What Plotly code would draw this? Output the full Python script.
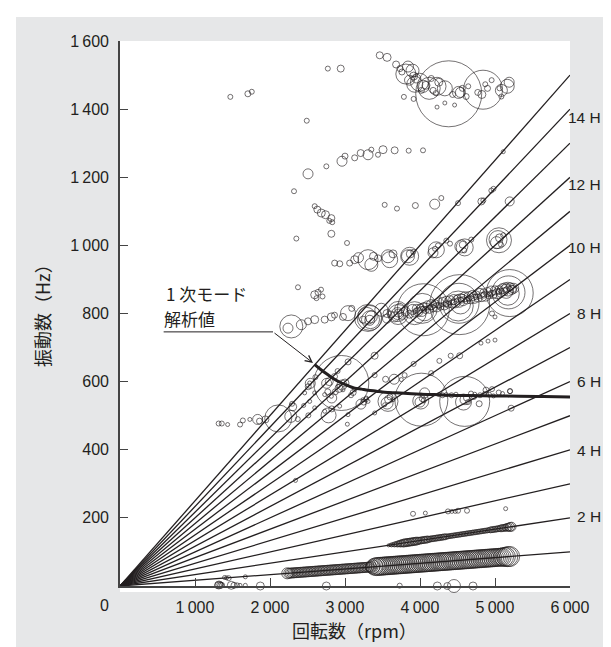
import plotly.graph_objects as go

# ---------------- data ----------------
harmonic_orders = [1, 2, 3, 4, 5, 6, 7, 8, 9, 10, 11, 12, 13, 14, 15]
rpm_max = 6000
label_text = ["2 H", "4 H", "6 H", "8 H", "10 H", "12 H", "14 H"]
label_hz = [203, 398, 601, 801, 994, 1180, 1374]

x_tick_vals = [1000, 2000, 3000, 4000, 5000, 6000]
x_tick_text = ["1\u2009000", "2\u2009000", "3\u2009000", "4\u2009000", "5\u2009000", "6\u2009000"]
y_tick_vals = [200, 400, 600, 800, 1000, 1200, 1400, 1600]
y_tick_text = ["200", "400", "600", "800", "1\u2009000", "1\u2009200", "1\u2009400", "1\u2009600"]

# 1st-mode analytical curve
mode_rpm = [2596, 2680, 2773, 2860, 2951, 3040, 3129, 3220, 3307, 3420, 3529, 3680,
            3840, 4000, 4196, 4400, 4640, 5000, 5307, 5650, 6000]
mode_hz = [650, 635, 620, 607, 596, 588, 581, 578, 575, 572, 569, 567,
           565, 563, 562, 560, 559, 558, 557, 556, 555]

# measured peaks: top cluster (~1450 Hz)
top_rpm = [3463, 3561, 3681, 3733, 3759, 3811, 3915, 3930, 3860, 3993, 4045, 4123, 4227, 4383,
           4331, 4250, 4175, 3785, 3915, 4227, 4331, 4461, 4539, 4565, 4643, 4840, 4825, 4870,
           4955, 4770, 5085, 5163, 5189, 5085, 5060, 4019, 4210, 4435, 4513, 4615, 4900, 3840,
           3900, 3950, 4080, 4150, 2771, 2943, 1471, 1705, 1757, 2490]
top_hz = [1558, 1552, 1531, 1519, 1509, 1503, 1497, 1473, 1485, 1479, 1467, 1461, 1467, 1445,
          1461, 1479, 1455, 1436, 1430, 1406, 1418, 1412, 1449, 1461, 1467, 1457, 1443, 1473,
          1485, 1449, 1455, 1467, 1479, 1437, 1461, 1455, 1447, 1443, 1449, 1437, 1461, 1525,
          1513, 1490, 1470, 1490, 1519, 1519, 1436, 1445, 1451, 1366]
top_size = [7, 8, 7, 6, 6, 20, 8, 16, 10, 18, 12, 22, 18, 66,
            15, 8, 6, 5, 5, 4, 4, 4, 10, 6, 5, 39, 8, 5,
            5, 6, 12, 14, 10, 5, 5, 6, 5, 6, 12, 6, 6, 11,
            13, 9, 8, 6, 5, 7, 5, 6, 5, 5]

# peaks 1000-1300 Hz
mid_rpm = [2507, 2320, 2751, 2960, 3000, 3129, 3209, 3307, 3351, 3440, 3507, 3662, 3849, 4040,
           2596, 2631, 2684, 2740, 2818, 2830, 2790, 2818, 2351, 3027, 3529, 3693, 3938, 4196,
           4284, 4507, 4818, 4845, 4951, 4980, 5196, 5110,
           2862, 2930, 3062, 3129, 3180, 3307, 3380, 3440, 3573, 3640, 3840, 3870, 3910, 4173,
           4200, 4240, 4351, 4400, 4551, 4570, 4590, 4684, 5040, 5020, 5060, 5110, 5080,
           3351, 3596, 3862, 4218, 4596, 5053]
mid_hz = [1210, 1159, 1232, 1247, 1262, 1257, 1271, 1266, 1281, 1266, 1281, 1279, 1278, 1279,
          1115, 1105, 1095, 1090, 1080, 1068, 1072, 1034, 1020, 1007, 1119, 1108, 1117, 1121,
          1139, 1124, 1129, 1132, 1161, 1166, 1129, 1275,
          948, 946, 948, 958, 964, 958, 968, 962, 968, 975, 968, 975, 981, 978,
          990, 1000, 1014, 1005, 997, 1002, 985, 1017, 1017, 1008, 1022, 1030, 1002,
          943, 958, 968, 987, 994, 1015]
mid_size = [10, 5, 5, 10, 6, 6, 7, 10, 5, 5, 8, 7, 5, 5,
            5, 7, 8, 8, 7, 5, 5, 7, 5, 5, 5, 5, 6, 10,
            5, 5, 7, 5, 5, 5, 9, 4,
            6, 6, 6, 8, 10, 20, 8, 7, 13, 8, 13, 8, 5, 10,
            5, 5, 5, 5, 13, 7, 5, 5, 18, 12, 8, 5, 5,
            13, 16, 18, 16, 17, 25]

# peaks 750-880 Hz (left part and big circles)
b800_rpm = [2373, 2596, 2640, 2680, 2620, 2700, 2284, 2240, 2418, 2507, 2596, 2729, 2818, 2860,
            2973, 3040, 3090, 3240, 3307, 3290, 3330, 3484, 3560, 3707, 3730, 3929,
            3329, 3340, 3350, 3707, 3700, 4044, 4030, 4060, 4529, 4520, 4510, 4540,
            5196, 5180, 5170, 5150, 5000, 4960]
b800_hz = [877, 855, 862, 870, 845, 850, 762, 757, 767, 777, 782, 782, 790, 795,
           790, 801, 815, 782, 787, 793, 780, 811, 800, 806, 815, 801,
           787, 782, 790, 797, 800, 811, 815, 805, 826, 830, 822, 828,
           860, 862, 858, 865, 790, 800]
b800_size = [5, 8, 6, 5, 5, 5, 23, 10, 10, 7, 8, 7, 8, 6,
             7, 15, 6, 7, 27, 17, 10, 13, 8, 20, 10, 23,
             25, 18, 12, 20, 12, 52, 30, 18, 60, 40, 30, 20,
             47, 33, 23, 14, 4, 5]

# dense band 3550-5250 rpm, 785-878 Hz
dense_rpm = [3560, 3610, 3660, 3710, 3760, 3810, 3860, 3900, 3925, 3950, 3975, 4000, 4025, 4050,
             4075, 4100, 4125, 4150, 4175, 4200, 4225, 4250, 4275, 4300, 4325, 4350, 4375, 4400,
             4425, 4450, 4475, 4500, 4525, 4550, 4575, 4600, 4625, 4650, 4675, 4700, 4725, 4750,
             4775, 4800, 4825, 4850, 4875, 4900, 4925, 4950, 4975, 5000, 5025, 5050, 5075, 5100,
             5125, 5150, 5175, 5200, 5225, 5250, 3950, 4050, 4150, 4250, 4350, 4450, 4550, 4650,
             4750, 4850, 4950, 5050, 5150, 5240]
dense_hz = [785, 797, 790, 801, 793, 806, 798, 812, 800, 815, 804, 818, 806, 820,
            810, 824, 812, 826, 815, 829, 818, 831, 820, 834, 822, 836, 826, 839,
            828, 841, 830, 844, 833, 846, 836, 849, 838, 851, 840, 853, 843, 856,
            845, 859, 848, 861, 851, 863, 853, 866, 856, 868, 858, 870, 861, 873,
            864, 876, 866, 878, 869, 874, 808, 813, 819, 824, 829, 834, 839, 844,
            849, 854, 859, 864, 869, 872]
dense_size = [9, 7, 10, 8, 7, 9, 8, 10, 7, 8, 9, 7, 10, 8,
              7, 9, 8, 10, 7, 8, 9, 10, 7, 9, 8, 10, 7, 9,
              8, 10, 9, 7, 10, 8, 9, 10, 7, 9, 8, 10, 9, 7,
              8, 10, 9, 8, 10, 9, 7, 10, 8, 9, 10, 8, 9, 10,
              8, 9, 10, 8, 9, 10, 6, 6, 6, 6, 6, 6, 6, 6,
              6, 6, 6, 6, 6, 7]

# peaks 460-720 Hz
m1_rpm = [1315, 1357, 1435, 1601, 1638, 1731, 1835, 1860, 1939, 2110, 2277, 2303, 2295, 2370,
          2449, 2511, 2537, 2510, 2605, 2781, 2823, 2823, 2951, 2755, 2790, 2770, 2870, 2920,
          2960, 2901, 2860, 3000, 3109, 3080, 3041, 3213, 3250, 3280, 3031, 3395, 3395, 3541,
          3573, 3561, 3580, 3600, 3655, 3795, 3915, 4149, 4018, 4010, 4000, 4030, 4050, 4258,
          4409, 4529, 4596, 4580, 4600, 4620, 4640, 4789, 4720, 5215, 4813, 4907, 5000, 5200,
          2529, 2462, 2596, 2729, 2818, 2907, 2973, 3129, 3240, 3284, 3307, 2529, 2596, 2729,
          2929, 3040, 3396, 3529, 3640, 3751, 4062,
          4250, 4300, 4350, 4420, 4480, 4680, 4730, 4800, 4860, 4920, 4980, 5050, 5100, 5200,
          4880, 4960]
m1_hz = [477, 477, 474, 474, 486, 489, 489, 484, 489, 492, 498, 526, 535, 490,
         530, 501, 595, 585, 613, 501, 520, 552, 596, 595, 600, 570, 570, 580,
         590, 631, 615, 596, 568, 560, 658, 534, 540, 548, 475, 676, 619, 607,
         542, 537, 548, 555, 607, 619, 652, 625, 547, 543, 540, 550, 545, 661,
         676, 676, 542, 540, 547, 552, 540, 535, 555, 522, 713, 719, 722, 572,
         596, 567, 567, 562, 557, 586, 576, 576, 547, 552, 542, 542, 523, 513,
         528, 503, 508, 532, 547, 606, 567,
         562, 560, 562, 560, 563, 565, 563, 560, 565, 562, 558, 568, 565, 572,
         575, 578]
m1_size = [5, 5, 4, 5, 5, 4, 10, 6, 7, 27, 12, 8, 5, 5,
           4, 5, 10, 6, 5, 15, 6, 10, 55, 10, 8, 6, 6, 8,
           10, 5, 6, 8, 6, 5, 6, 10, 6, 5, 4, 7, 5, 6,
           20, 12, 8, 6, 10, 5, 5, 5, 53, 16, 10, 6, 5, 5,
           5, 6, 50, 16, 10, 6, 5, 6, 5, 6, 4, 4, 4, 5,
           4, 4, 4, 4, 4, 4, 4, 4, 4, 4, 4, 4, 4, 4,
           4, 4, 4, 4, 4, 4, 10,
           4, 5, 4, 5, 4, 5, 4, 5, 4, 5, 4, 5, 4, 5,
           6, 5]

# low-frequency peaks
low_rpm = [1307, 1320, 1330, 1345, 1360, 1394, 1420, 1449, 1484, 1520, 1560, 1600, 1671, 1671,
           1871, 2751, 3729, 4231, 4364, 4453, 4707, 2340,
           3907, 4071, 4373, 4424, 4470, 4507, 4627, 5142]
low_hz = [2, 3, 4, 2, 3, 25, 24, 23, 2, 2, 2, 2, 2, 27,
          0, 0, 1, 0, 0, 0, 0, 310,
          212, 214, 219, 219, 219, 221, 221, 227]
low_size = [7, 8, 6, 6, 5, 4, 4, 5, 8, 6, 5, 4, 4, 4,
            8, 8, 5, 8, 7, 13, 8, 4,
            5, 4, 5, 4, 4, 5, 5, 4]

# 1st-order (1H) band, lower-amplitude part
h1a_rpm = [2230, 2250, 2270, 2290, 2310, 2330, 2350, 2370, 2390, 2410, 2430, 2450, 2470, 2490,
           2510, 2530, 2550, 2570, 2590, 2610, 2630, 2650, 2670, 2690, 2710, 2730, 2750, 2770,
           2790, 2810, 2830, 2850, 2870, 2890, 2910, 2930, 2950, 2970, 2990, 3010, 3030, 3050,
           3070, 3090, 3110, 3130, 3150, 3170, 3190, 3210, 3230, 3250, 3270, 3290, 3310, 3330,
           3350]
h1a_hz = [37.2, 37.5, 37.8, 38.2, 38.5, 38.8, 39.2, 39.5, 39.8, 40.2, 40.5, 40.8, 41.2, 41.5,
          41.8, 42.2, 42.5, 42.8, 43.2, 43.5, 43.8, 44.2, 44.5, 44.8, 45.2, 45.5, 45.8, 46.2,
          46.5, 46.8, 47.2, 47.5, 47.8, 48.2, 48.5, 48.8, 49.2, 49.5, 49.8, 50.2, 50.5, 50.8,
          51.2, 51.5, 51.8, 52.2, 52.5, 52.8, 53.2, 53.5, 53.8, 54.2, 54.5, 54.8, 55.2, 55.5,
          55.8]
h1a_size = [11, 10, 10, 10, 10, 10, 10, 10, 10, 10, 10, 10, 10, 10,
            10, 10, 10, 10, 10, 10, 10, 10, 10, 10, 10, 10, 10, 10,
            10, 10, 10, 10, 10, 10, 10, 10, 10, 10, 10, 10, 10, 10,
            10, 10, 10, 10, 10, 10, 10, 10, 10, 10, 10, 10, 10, 10,
            11]

# 1st-order (1H) band, higher-amplitude part
h1b_rpm = [3370, 3395, 3420, 3445, 3470, 3495, 3520, 3545, 3570, 3595, 3620, 3645, 3670, 3695,
           3720, 3745, 3770, 3795, 3820, 3845, 3870, 3895, 3920, 3945, 3970, 3995, 4020, 4045,
           4070, 4095, 4120, 4145, 4170, 4195, 4220, 4245, 4270, 4295, 4320, 4345, 4370, 4395,
           4420, 4445, 4470, 4495, 4520, 4545, 4570, 4595, 4620, 4645, 4670, 4695, 4720, 4745,
           4770, 4795, 4820, 4845, 4870, 4895, 4920, 4945, 4970, 4995, 5020, 5045, 5070, 5095,
           5120, 5145, 5170, 5195]
h1b_hz = [56.2, 56.6, 57.0, 57.4, 57.8, 58.2, 58.7, 59.1, 59.5, 59.9, 60.3, 60.7, 61.2, 61.6,
          62.0, 62.4, 62.8, 63.2, 63.7, 64.1, 64.5, 64.9, 65.3, 65.7, 66.2, 66.6, 67.0, 67.4,
          67.8, 68.2, 68.7, 69.1, 69.5, 69.9, 70.3, 70.7, 71.2, 71.6, 72.0, 72.4, 72.8, 73.2,
          73.7, 74.1, 74.5, 74.9, 75.3, 75.7, 76.2, 76.6, 77.0, 77.4, 77.8, 78.2, 78.7, 79.1,
          79.5, 79.9, 80.3, 80.7, 81.2, 81.6, 82.0, 82.4, 82.8, 83.2, 83.7, 84.1, 84.5, 84.9,
          85.3, 85.7, 86.2, 86.6]
h1b_size = [14, 17, 18, 18, 18, 18, 18, 18, 18, 18, 18, 18, 18, 18,
            18, 18, 18, 18, 18, 18, 18, 18, 18, 18, 18, 18, 18, 18,
            18, 18, 18, 18, 18, 18, 18, 18, 18, 18, 18, 18, 18, 18,
            18, 18, 18, 18, 18, 18, 18, 18, 18, 18, 18, 18, 18, 18,
            18, 18, 18, 18, 18, 18, 18, 18, 18, 18, 18, 18, 18, 18,
            19, 19, 20, 20]

# 2nd-order (2H) band
h2_rpm = [3580, 3600, 3620, 3640, 3660, 3680, 3700, 3720, 3740, 3760, 3780, 3800, 3820, 3840,
          3860, 3880, 3900, 3920, 3940, 3960, 3980, 4000, 4020, 4040, 4060, 4080, 4100, 4120,
          4140, 4160, 4180, 4200, 4220, 4240, 4260, 4280, 4300, 4320, 4340, 4360, 4380, 4400,
          4420, 4440, 4460, 4480, 4500, 4520, 4540, 4560, 4580, 4600, 4620, 4640, 4660, 4680,
          4700, 4720, 4740, 4760, 4780, 4800, 4820, 4840, 4860, 4880, 4900, 4920, 4940, 4960,
          4980, 5000, 5020, 5040, 5060, 5080, 5100, 5120, 5140, 5160, 5180, 5200, 5220]
h2_hz = [119.3, 120.0, 120.7, 121.3, 122.0, 122.7, 123.3, 124.0, 124.7, 125.3, 126.0, 126.7, 127.3, 128.0,
         128.7, 129.3, 130.0, 130.7, 131.3, 132.0, 132.7, 133.3, 134.0, 134.7, 135.3, 136.0, 136.7, 137.3,
         138.0, 138.7, 139.3, 140.0, 140.7, 141.3, 142.0, 142.7, 143.3, 144.0, 144.7, 145.3, 146.0, 146.7,
         147.3, 148.0, 148.7, 149.3, 150.0, 150.7, 151.3, 152.0, 152.7, 153.3, 154.0, 154.7, 155.3, 156.0,
         156.7, 157.3, 158.0, 158.7, 159.3, 160.0, 160.7, 161.3, 162.0, 162.7, 163.3, 164.0, 164.7, 165.3,
         166.0, 166.7, 167.3, 168.0, 168.7, 169.3, 170.0, 170.7, 171.3, 172.0, 172.7, 173.3, 174.0]
h2_size = [3, 3, 4, 4, 5, 5, 6, 6, 7, 7, 8, 8, 8, 8,
           8, 8, 8, 8, 8, 8, 7, 7, 7, 7, 7, 7, 7, 6,
           6, 6, 6, 6, 6, 6, 6, 6, 6, 6, 6, 5, 5, 5,
           5, 5, 5, 5, 5, 5, 5, 5, 5, 5, 5, 5, 5, 5,
           5, 5, 5, 5, 5, 5, 5, 5, 5, 5, 5, 5, 6, 6,
           6, 6, 6, 6, 6, 7, 7, 7, 7, 8, 8, 9, 9]

# ---------------- figure ----------------
INK = "#231f20"
FONT = "Liberation Sans, Arial, Noto Sans CJK JP, sans-serif"
JFONT = "Noto Sans CJK JP, Liberation Sans, sans-serif"
GRAY = "#e6e7e8"

W, H = 611, 647
L, R, T, B = 112, 49, 33, 69
pw, ph = W - L - R, H - T - B


def px_to_paper_x(px):
    return (px - L) / pw


def px_to_paper_y(py):
    return (H - B - py) / ph


fig = go.Figure()

# order lines
lx, ly = [], []
for n in harmonic_orders:
    lx += [0, rpm_max, None]
    ly += [0, n * rpm_max / 60, None]
fig.add_trace(go.Scatter(x=lx, y=ly, mode="lines", line=dict(color=INK, width=1.3),
                         hoverinfo="skip", showlegend=False))

groups = [
    (h1a_rpm, h1a_hz, h1a_size, 1.0),
    (h1b_rpm, h1b_hz, h1b_size, 1.0),
    (h2_rpm, h2_hz, h2_size, 1.0),
    (low_rpm, low_hz, low_size, 0.9),
    (m1_rpm, m1_hz, m1_size, 0.9),
    (dense_rpm, dense_hz, dense_size, 0.9),
    (b800_rpm, b800_hz, b800_size, 0.9),
    (mid_rpm, mid_hz, mid_size, 0.9),
    (top_rpm, top_hz, top_size, 0.9),
]
for gx, gy, gs, lw in groups:
    fig.add_trace(go.Scatter(
        x=gx, y=gy, mode="markers", cliponaxis=False, showlegend=False,
        marker=dict(symbol="circle-open", size=gs, color=INK, line=dict(width=lw, color=INK)),
    ))

# analytical 1st-mode curve
fig.add_trace(go.Scatter(x=mode_rpm, y=mode_hz, mode="lines",
                         line=dict(color=INK, width=3, shape="spline"),
                         showlegend=False, hoverinfo="skip"))

annotations = []
for t, h in zip(label_text, label_hz):
    annotations.append(dict(x=px_to_paper_x(595), xref="paper", y=h, yref="y", text=t, showarrow=False,
                            xanchor="right", yanchor="middle",
                            font=dict(family=FONT, size=15.5, color=INK)))

annotations += [
    dict(x=px_to_paper_x(157), y=px_to_paper_y(285), xref="paper", yref="paper", text="1 次モード",
         showarrow=False, xanchor="left", yanchor="middle", borderpad=0,
         font=dict(family=JFONT, size=17, color=INK)),
    dict(x=px_to_paper_x(155), y=px_to_paper_y(311), xref="paper", yref="paper", text="解析値",
         showarrow=False, xanchor="left", yanchor="middle", borderpad=0,
         font=dict(family=JFONT, size=17, color=INK)),
    dict(x=2573, y=655, ax=2040, ay=746, xref="x", yref="y", axref="x", ayref="y", text="",
         showarrow=True, arrowhead=5, arrowsize=1.3, arrowwidth=1, arrowcolor=INK),
    dict(x=px_to_paper_x(96), y=px_to_paper_y(597), xref="paper", yref="paper", text="0",
         showarrow=False, xanchor="center", yanchor="middle",
         font=dict(family=FONT, size=16, color=INK)),
    dict(x=px_to_paper_x(346), y=px_to_paper_y(622), xref="paper", yref="paper",
         text="回転数（rpm）", showarrow=False, xanchor="center", yanchor="middle",
         font=dict(family=JFONT, size=18, color=INK)),
    dict(x=px_to_paper_x(34), y=px_to_paper_y(303), xref="paper", yref="paper",
         text="振動数（Hz）", textangle=-90, showarrow=False, xanchor="center", yanchor="middle",
         font=dict(family=JFONT, size=18, color=INK)),
]

shapes = [
    # leader line
    dict(type="line", xref="x", yref="y", x0=582, y0=746, x1=2040, y1=746,
         line=dict(color=INK, width=1)),
    # white strip under x axis
    dict(type="rect", xref="paper", yref="paper", x0=0, x1=1, y0=px_to_paper_y(584), y1=0,
         fillcolor="white", line=dict(width=0), layer="below"),
    # white outer frame
    dict(type="rect", xref="paper", yref="paper", x0=px_to_paper_x(-2), x1=px_to_paper_x(8),
         y0=px_to_paper_y(H + 2), y1=px_to_paper_y(-2), fillcolor="white", line=dict(width=0),
         layer="below"),
    dict(type="rect", xref="paper", yref="paper", x0=px_to_paper_x(602), x1=px_to_paper_x(W + 2),
         y0=px_to_paper_y(H + 2), y1=px_to_paper_y(-2), fillcolor="white", line=dict(width=0),
         layer="below"),
    dict(type="rect", xref="paper", yref="paper", x0=px_to_paper_x(-2), x1=px_to_paper_x(W + 2),
         y0=px_to_paper_y(9), y1=px_to_paper_y(-2), fillcolor="white", line=dict(width=0),
         layer="below"),
    dict(type="rect", xref="paper", yref="paper", x0=px_to_paper_x(-2), x1=px_to_paper_x(W + 2),
         y0=px_to_paper_y(H + 2), y1=px_to_paper_y(643), fillcolor="white", line=dict(width=0),
         layer="below"),
]

fig.update_layout(
    width=W, height=H, margin=dict(l=L, r=R, t=T, b=B, pad=0),
    paper_bgcolor=GRAY, plot_bgcolor="white",
    font=dict(family=FONT, size=15, color=INK),
    showlegend=False, annotations=annotations, shapes=shapes,
    xaxis=dict(range=[0, 6000], tickvals=x_tick_vals, ticktext=x_tick_text, ticks="inside",
               ticklen=8, tickwidth=1.2, tickcolor="#444", showline=True, linecolor="#444",
               linewidth=1.6, showgrid=False, zeroline=False, ticklabelstandoff=6,
               tickfont=dict(family=FONT, size=16, color=INK)),
    yaxis=dict(range=[0, 1600], tickvals=y_tick_vals, ticktext=y_tick_text, ticks="inside",
               ticklen=8, tickwidth=1.2, tickcolor="#444", showline=True, linecolor="#444",
               linewidth=1.6, showgrid=False, zeroline=False, ticklabelstandoff=6,
               tickfont=dict(family=FONT, size=16, color=INK)),
)

fig.write_html("out.html")
